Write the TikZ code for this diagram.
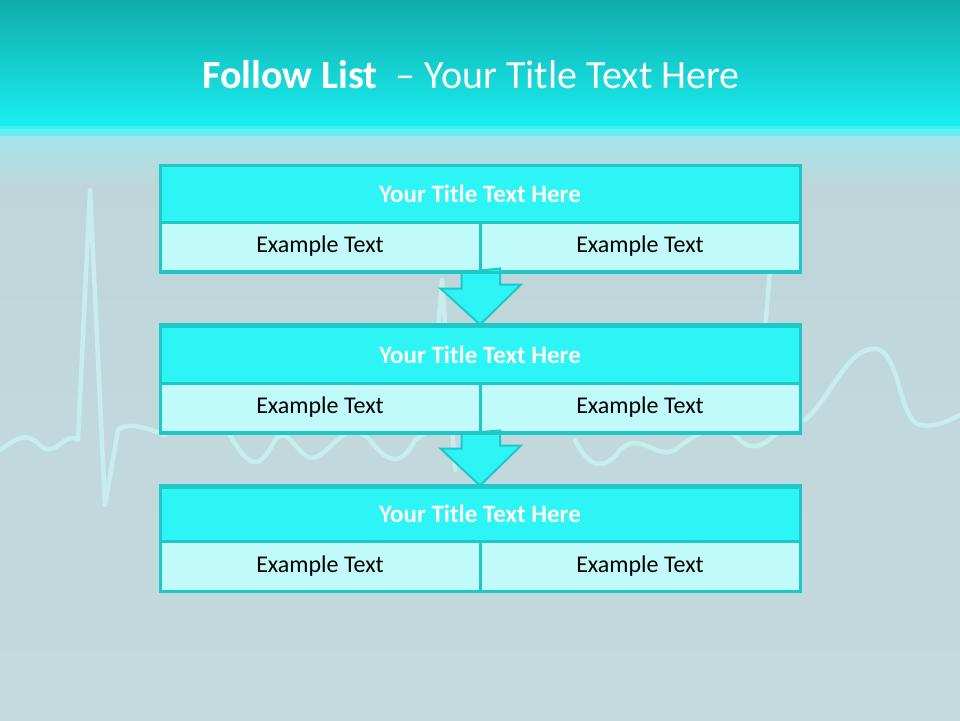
\documentclass[tikz,border=0pt]{standalone}
\usepackage{fontspec}
\setmainfont{Carlito}
\usetikzlibrary{calc}
\definecolor{hdrtop}{RGB}{16,172,172}
\definecolor{hdrbot}{RGB}{26,240,240}
\definecolor{bgtop}{RGB}{160,232,236}
\definecolor{bgmid}{RGB}{190,214,218}
\definecolor{bgbot}{RGB}{196,218,222}
\definecolor{titlefill}{RGB}{45,245,245}
\definecolor{cellfill}{RGB}{192,250,250}
\definecolor{edgec}{RGB}{30,200,200}
\definecolor{ecg}{RGB}{205,252,252}
\tikzset{
  titlebox/.style={draw=edgec, line width=3pt, fill=titlefill, minimum width=640pt, minimum height=57pt, inner sep=0pt,
    font=\fontsize{25}{28}\selectfont\bfseries, text=white},
  cellbox/.style={draw=edgec, line width=3pt, fill=cellfill, minimum width=320pt, minimum height=49pt, inner sep=0pt,
    font=\fontsize{24}{27}\selectfont, text=black},
  downarrow/.style={draw=edgec, line width=2pt, fill=titlefill, line join=miter},
  ecgline/.style={draw=ecg, line width=4.5pt, opacity=0.6, line join=round, line cap=round}
}
\begin{document}
\begin{tikzpicture}[x=1pt,y=-1pt]
\useasboundingbox (0,0) rectangle (960,720);
% background
\shade[top color=bgmid, bottom color=bgbot] (0,160) rectangle (960,720);
\shade[top color=bgtop, bottom color=bgmid] (0,128) rectangle (960,185);
\shade[top color=hdrtop, bottom color=hdrbot] (0,0) rectangle (960,128);
\fill[hdrbot!80!white, opacity=0.7] (0,126) rectangle (960,136);
% faint ECG trace
\draw[ecgline] (0,450) .. controls (15,440) and (25,430) .. (40,445)
  .. controls (55,460) and (65,430) .. (78,440) -- (90,190) -- (105,505) -- (118,430)
  .. controls (130,420) and (150,430) .. (165,435);
\draw[ecgline] (230,435) .. controls (250,470) and (260,470) .. (275,440)
  .. controls (290,420) and (300,470) .. (320,455)
  .. controls (340,440) and (350,420) .. (370,440)
  .. controls (385,460) and (400,470) .. (415,440) -- (430,430) -- (442,280) -- (455,470);
\draw[ecgline] (575,440) .. controls (590,470) and (605,470) .. (620,450)
  .. controls (640,430) and (655,460) .. (675,450)
  .. controls (700,430) and (720,420) .. (740,440)
  .. controls (755,455) and (770,440) .. (780,430);
\draw[ecgline] (805,420) .. controls (830,400) and (850,340) .. (880,350)
  .. controls (900,360) and (900,420) .. (920,425) .. controls (935,428) and (950,420) .. (960,415);
\draw[ecgline] (765,330) -- (770,270);
% title
\node[anchor=base, text=white, font=\fontsize{40}{44}\selectfont] (heading) at (471,88)
  {\textbf{Follow List}\ \ – Your Title Text Here};
% boxes
\node[titlebox] (t1) at (480,193.5) {Your Title Text Here};
\node[cellbox] (c1a) at (320,246.5) {Example Text};
\node[cellbox] (c1b) at (640,246.5) {Example Text};
\node[titlebox] (t2) at (480,354.5) {Your Title Text Here};
\node[cellbox] (c2a) at (320,407.5) {Example Text};
\node[cellbox] (c2b) at (640,407.5) {Example Text};
\node[titlebox, minimum height=54pt] (t3) at (480,514) {Your Title Text Here};
\node[cellbox, minimum height=50pt] (c3a) at (320,566) {Example Text};
\node[cellbox, minimum height=50pt] (c3b) at (640,566) {Example Text};
% arrows
\draw[downarrow] ($(c1a.south east)+(-20,0)$) -- ++(0,16) -- ++(-21,0) -- (t2.north) -- ++(41,-40) -- ++(-21,0) -- ++(0,-16) -- cycle;
\draw[downarrow] ($(c2a.south east)+(-20,0)$) -- ++(0,15) -- ++(-21,0) -- (t3.north) -- ++(41,-40) -- ++(-21,0) -- ++(0,-15) -- cycle;
% redraw box edges over arrow ends
\draw[edgec, line width=3pt] (c1a.south west) -- (c1b.south east);
\draw[edgec, line width=3pt] (c2a.south west) -- (c2b.south east);
\draw[edgec, line width=3pt] (t2.north west) -- (t2.north east);
\draw[edgec, line width=3pt] (t3.north west) -- (t3.north east);
\end{tikzpicture}
\end{document}
